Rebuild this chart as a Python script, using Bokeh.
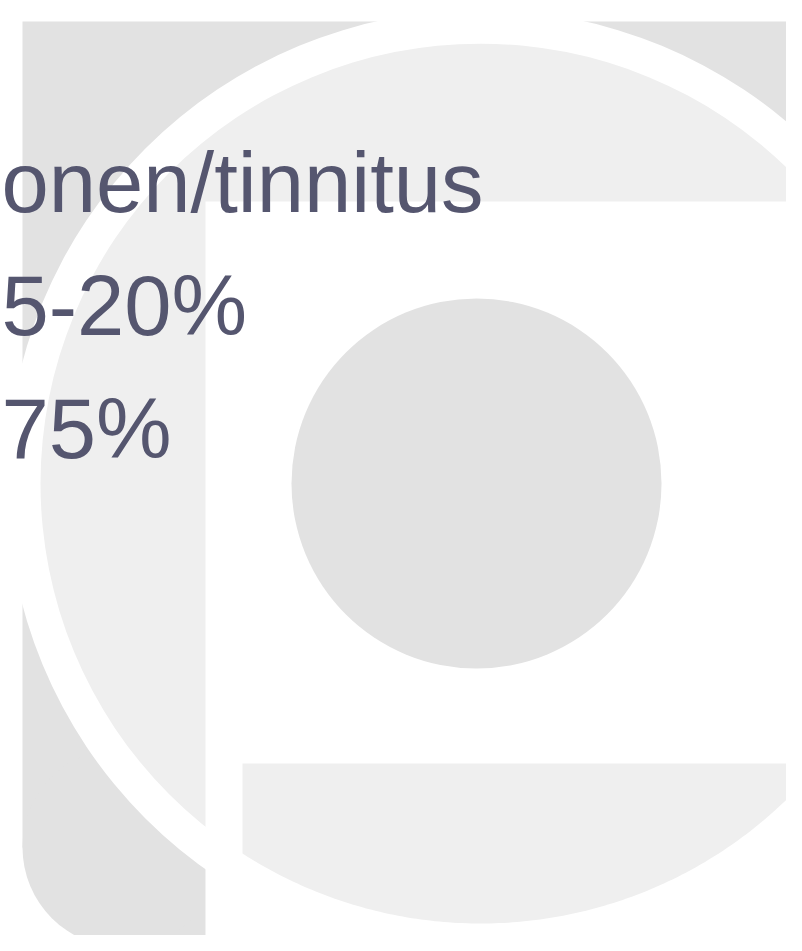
import numpy as np
from bokeh.plotting import figure
from bokeh.models import Range1d
from bokeh.core.properties import value
from bokeh.embed import file_html
from bokeh.resources import INLINE

# ---- content -------------------------------------------------------------
lines = ["onen/tinnitus", "5-20%", "75%"]
line_x = [1, 1, 1]
line_baseline = [182, 305, 428]

# ---- logo geometry (image pixel coordinates, y downwards) -----------------
sq_left, sq_top, sq_right, sq_bottom = 22, 21, 787, 947
corner_r = 100
big_cx, big_cy = 480, 483
gap_r = 474
ring_r = 440
cut_left, cut_top = 205, 201
foot_left, foot_top = 242, 763
dot_cx, dot_cy, dot_r = 476, 483, 185

DARK = "#e2e2e2"
LIGHT = "#efefef"
WHITE = "#ffffff"
TEXT = "#55566f"

W, H = 786, 935
p = figure(width=W, height=H, output_backend="svg", toolbar_location=None,
           x_range=Range1d(0, W), y_range=Range1d(H, 0),
           min_border=0, background_fill_color=WHITE, border_fill_color=WHITE)
p.axis.visible = False
p.grid.visible = False
p.outline_line_color = None

# dark square with rounded bottom-left corner
p.quad(left=[sq_left], right=[sq_right], top=[sq_top], bottom=[sq_bottom - corner_r],
       fill_color=DARK, line_color=None)
p.quad(left=[sq_left + corner_r], right=[sq_right], top=[sq_bottom - corner_r], bottom=[sq_bottom],
       fill_color=DARK, line_color=None)
p.circle(x=[sq_left + corner_r], y=[sq_bottom - corner_r], radius=corner_r,
         fill_color=DARK, line_color=None)

# white gap disc and light disc
p.circle(x=[big_cx], y=[big_cy], radius=gap_r, fill_color=WHITE, line_color=None)
p.circle(x=[big_cx], y=[big_cy], radius=ring_r, fill_color=LIGHT, line_color=None)

# white cut (inside of the letter)
p.quad(left=[cut_left], right=[820], top=[cut_top], bottom=[980],
       fill_color=WHITE, line_color=None)

# bottom bar of the letter: disc segment
xs_arc = np.linspace(sq_right, foot_left, 120)
ys_arc = big_cy + np.sqrt(ring_r ** 2 - (xs_arc - big_cx) ** 2)
px = np.concatenate([[foot_left, sq_right], xs_arc])
py = np.concatenate([[foot_top, foot_top], ys_arc])
p.patch(x=px, y=py, fill_color=LIGHT, line_color=None)

# inner dot
p.circle(x=[dot_cx], y=[dot_cy], radius=dot_r, fill_color=DARK, line_color=None)

# right clip
p.quad(left=[sq_right], right=[820], top=[-20], bottom=[980], fill_color=WHITE, line_color=None)

# text
p.text(x=line_x, y=line_baseline, text=lines, text_font=value("Liberation Sans"),
       text_font_size="85px", text_color=TEXT, text_baseline="alphabetic", text_align="left")

open("out.html", "w").write(file_html(p, INLINE))
